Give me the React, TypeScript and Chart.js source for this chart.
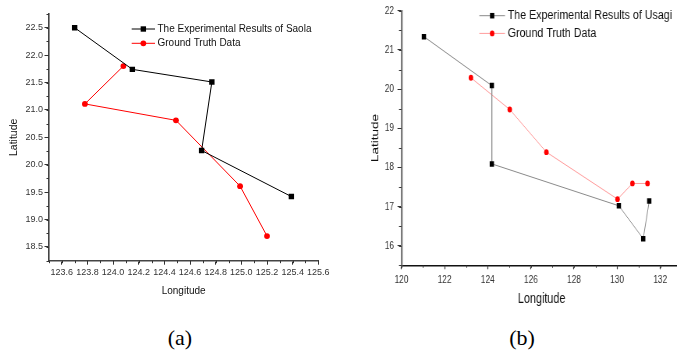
import React, { useEffect, useRef } from 'react';
import { Chart, registerables } from 'chart.js';

Chart.register(...registerables);

// ---------- Data: (a) Saola ----------
const saolaExpLon = [123.7, 124.15, 124.77, 124.69, 125.39];
const saolaExpLat = [22.5, 21.74, 21.51, 20.26, 19.42];
const saolaTruthLon = [124.08, 123.78, 124.49, 124.99, 125.2];
const saolaTruthLat = [21.8, 21.11, 20.81, 19.61, 18.7];
const saolaXTicks = [123.6, 123.8, 124.0, 124.2, 124.4, 124.6, 124.8, 125.0, 125.2, 125.4, 125.6];
const saolaYTicks = [18.5, 19.0, 19.5, 20.0, 20.5, 21.0, 21.5, 22.0, 22.5];

// ---------- Data: (b) Usagi ----------
const usagiExpLon = [121.04, 124.19, 124.19, 130.08, 131.21, 131.49];
const usagiExpLat = [21.34, 20.09, 18.09, 17.02, 16.18, 17.14];
const usagiTruthLon = [123.22, 125.02, 126.72, 130.02, 130.71, 131.41];
const usagiTruthLat = [20.29, 19.48, 18.39, 17.19, 17.59, 17.59];
const usagiXTicks = [120, 122, 124, 126, 128, 130, 132];
const usagiYTicks = [16, 17, 18, 19, 20, 21, 22];

const labelExpSaola = 'The Experimental Results of Saola';
const labelExpUsagi = 'The Experimental Results of Usagi';
const labelTruth = 'Ground Truth Data';

const SANS = "'Liberation Sans', Arial, sans-serif";

// panel (b) is horizontally squeezed in the reference figure
const SQUEEZE_B = 0.78;

const zip = (xs: number[], ys: number[]) => xs.map((x, i) => ({ x, y: ys[i] }));

const minorTicks = {
  id: 'minorTicks',
  afterDraw(chart: any, _args: any, o: any) {
    const ctx = chart.ctx;
    const items: [string, number, number][] = [['x', o.xStep, o.lenX], ['y', o.yStep, o.lenY]];
    ctx.save();
    ctx.strokeStyle = o.color;
    ctx.lineWidth = 1;
    for (const [id, step, len] of items) {
      const s = chart.scales[id];
      if (!s || !step) continue;
      const n0 = Math.ceil(s.min / step - 1e-6);
      const n1 = Math.floor(s.max / step + 1e-6);
      for (let n = n0; n <= n1; n++) {
        const p = Math.round(s.getPixelForValue(n * step)) + 0.5;
        ctx.beginPath();
        if (s.isHorizontal()) {
          ctx.moveTo(p, s.top);
          ctx.lineTo(p, s.top + len);
        } else {
          ctx.moveTo(s.right, p);
          ctx.lineTo(s.right - len, p);
        }
        ctx.stroke();
      }
    }
    ctx.restore();
  },
};

const insideLegend = {
  id: 'insideLegend',
  afterDraw(chart: any, _args: any, o: any) {
    const ctx = chart.ctx;
    chart.data.datasets.forEach((ds: any, i: number) => {
      const y = o.y + i * o.rowH;
      ctx.save();
      ctx.strokeStyle = ds.borderColor;
      ctx.lineWidth = ds.borderWidth;
      ctx.beginPath();
      ctx.moveTo(o.x, y);
      ctx.lineTo(o.x + o.lineLen, y);
      ctx.stroke();
      const cx = o.x + o.lineLen / 2;
      const r = ds.pointRadius;
      ctx.fillStyle = ds.pointBackgroundColor;
      if (ds.pointStyle === 'rect') {
        const h = r * Math.SQRT1_2;
        ctx.fillRect(cx - h, y - h, 2 * h, 2 * h);
      } else {
        ctx.beginPath();
        ctx.arc(cx, y, r, 0, Math.PI * 2);
        ctx.fill();
      }
      ctx.font = o.font;
      ctx.fillStyle = o.color;
      ctx.textBaseline = 'middle';
      ctx.textAlign = 'left';
      ctx.fillText(ds.label, o.x + o.lineLen + o.gap, y);
      ctx.restore();
    });
  },
};

function setTicks(values: number[]) {
  return (s: any) => {
    s.ticks = values.map((v) => ({ value: v }));
  };
}

const configA: any = {
  type: 'scatter',
  data: {
    datasets: [
      {
        label: labelExpSaola,
        data: zip(saolaExpLon, saolaExpLat),
        showLine: true,
        borderColor: '#000000',
        backgroundColor: '#000000',
        pointBackgroundColor: '#000000',
        pointBorderWidth: 0,
        pointStyle: 'rect',
        pointRadius: 3.8,
        borderWidth: 1,
      },
      {
        label: labelTruth,
        data: zip(saolaTruthLon, saolaTruthLat),
        showLine: true,
        borderColor: '#ff0000',
        backgroundColor: '#ff0000',
        pointBackgroundColor: '#ff0000',
        pointBorderWidth: 0,
        pointStyle: 'circle',
        pointRadius: 2.9,
        borderWidth: 1,
      },
    ],
  },
  options: {
    responsive: false,
    animation: false,
    devicePixelRatio: 1,
    layout: { padding: { left: 8, top: 14, right: 21.7, bottom: 0 } },
    plugins: {
      legend: { display: false },
      tooltip: { enabled: false },
      insideLegend: { x: 131.7, y: 29, lineLen: 23.3, gap: 2.5, rowH: 14.3, font: `10px ${SANS}`, color: '#111' },
      minorTicks: { xStep: 0.1, yStep: 0.25, lenX: 2.5, lenY: 2.5, color: '#333' },
    },
    scales: {
      x: {
        type: 'linear',
        min: 123.5,
        max: 125.6,
        afterBuildTicks: setTicks(saolaXTicks),
        afterFit: (s: any) => { s.height = 36.3; },
        grid: { drawOnChartArea: false, drawTicks: true, tickLength: 4, tickColor: '#333', tickWidth: 1 },
        border: { display: true, color: '#444', width: 1.6 },
        ticks: { padding: 2, autoSkip: false, maxRotation: 0, color: '#333', font: { family: SANS, size: 9 }, callback: (v: any) => Number(v).toFixed(1) },
        title: { display: true, text: 'Longitude', color: '#111', font: { family: SANS, size: 10 }, padding: 0 },
      },
      y: {
        type: 'linear',
        min: 18.25,
        max: 22.75,
        afterBuildTicks: setTicks(saolaYTicks),
        afterFit: (s: any) => { s.width = 41; },
        grid: { drawOnChartArea: false, drawTicks: true, tickLength: 4.5, tickColor: '#333', tickWidth: 1 },
        border: { display: true, color: '#444', width: 1.6 },
        ticks: { padding: 1.5, autoSkip: false, color: '#333', font: { family: SANS, size: 9 }, callback: (v: any) => Number(v).toFixed(1) },
        title: { display: true, text: 'Latitude', color: '#111', font: { family: SANS, size: 10.5 }, padding: 0 },
      },
    },
  },
  plugins: [minorTicks, insideLegend],
};

const configB: any = {
  type: 'scatter',
  data: {
    datasets: [
      {
        label: labelExpUsagi,
        data: zip(usagiExpLon, usagiExpLat),
        showLine: true,
        borderColor: '#8a8a8a',
        backgroundColor: '#000000',
        pointBackgroundColor: '#000000',
        pointBorderWidth: 0,
        pointStyle: 'rect',
        pointRadius: 3.9,
        borderWidth: 1,
      },
      {
        label: labelTruth,
        data: zip(usagiTruthLon, usagiTruthLat),
        showLine: true,
        borderColor: '#ff9c9c',
        backgroundColor: '#ff0000',
        pointBackgroundColor: '#ff0000',
        pointBorderWidth: 0,
        pointStyle: 'circle',
        pointRadius: 2.9,
        borderWidth: 1,
      },
    ],
  },
  options: {
    responsive: false,
    animation: false,
    devicePixelRatio: 1,
    layout: { padding: { left: 36.7, top: 7.3, right: 21.8, bottom: 0 } },
    plugins: {
      legend: { display: false },
      tooltip: { enabled: false },
      insideLegend: { x: 178.6, y: 15.7, lineLen: 32.9, gap: 3.5, rowH: 17.7, font: `13.7px ${SANS}`, color: '#111' },
      minorTicks: { xStep: 1, yStep: 0.5, lenX: 2.5, lenY: 3.2, color: '#333' },
    },
    scales: {
      x: {
        type: 'linear',
        min: 120,
        max: 133,
        afterBuildTicks: setTicks(usagiXTicks),
        afterFit: (s: any) => { s.height = 42.7; },
        grid: { drawOnChartArea: false, drawTicks: true, tickLength: 4, tickColor: '#333', tickWidth: 1.2 },
        border: { display: true, color: '#111', width: 1.6 },
        ticks: { padding: 4, autoSkip: false, maxRotation: 0, color: '#333', font: { family: SANS, size: 10.7 } },
        title: { display: true, text: 'Longitude', color: '#111', font: { family: SANS, size: 13.9 }, padding: 0 },
      },
      y: {
        type: 'linear',
        min: 15.5,
        max: 22,
        afterBuildTicks: setTicks(usagiYTicks),
        afterFit: (s: any) => { s.width = 42.1; },
        grid: { drawOnChartArea: false, drawTicks: true, tickLength: 5.1, tickColor: '#333', tickWidth: 1 },
        border: { display: true, color: '#7a7a7a', width: 2.4 },
        ticks: { padding: 4.4, autoSkip: false, color: '#333', font: { family: SANS, size: 10.7 } },
        title: { display: true, text: 'Latitude', color: '#111', font: { family: SANS, size: 13.5 }, padding: 0 },
      },
    },
  },
  plugins: [minorTicks, insideLegend],
};

function ChartBox({ config, left, top, width, height, squeeze = 1 }: { config: any; left: number; top: number; width: number; height: number; squeeze?: number }) {
  const ref = useRef<HTMLCanvasElement | null>(null);
  useEffect(() => {
    const chart = new Chart(ref.current as HTMLCanvasElement, config);
    return () => chart.destroy();
  }, [config]);
  return (
    <div
      style={{
        position: 'absolute',
        left,
        top,
        width,
        height,
        transform: squeeze !== 1 ? `scaleX(${squeeze})` : undefined,
        transformOrigin: '0 0',
      }}
    >
      <canvas ref={ref} width={width} height={height} style={{ width, height, display: 'block' }} />
    </div>
  );
}

const captionStyle: React.CSSProperties = {
  position: 'absolute',
  width: 80,
  textAlign: 'center',
  fontFamily: "'Liberation Serif', 'Times New Roman', serif",
  fontSize: 22,
  lineHeight: '22px',
  color: '#000',
};

export default function App() {
  return (
    <div style={{ position: 'fixed', left: 0, top: 0, width: 677, height: 356, overflow: 'hidden', background: '#fff' }}>
      <ChartBox config={configA} left={0} top={0} width={340} height={297} />
      <ChartBox config={configB} left={340} top={0} width={460} height={308} squeeze={SQUEEZE_B} />
      <div style={{ ...captionStyle, left: 140, top: 326.5 }}>(a)</div>
      <div style={{ ...captionStyle, left: 482, top: 326.5 }}>(b)</div>
    </div>
  );
}
